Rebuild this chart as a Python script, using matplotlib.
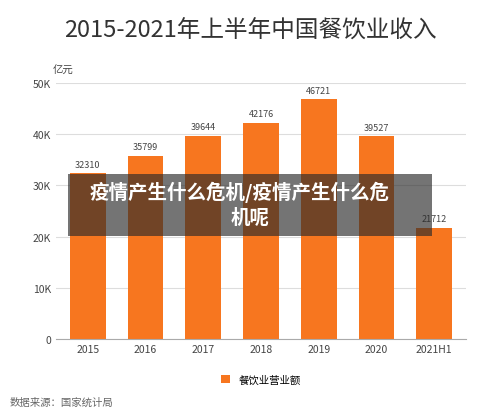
import matplotlib
matplotlib.use("Agg")
import matplotlib.pyplot as plt
from matplotlib.patches import Rectangle

plt.rcParams['font.family'] = ['Noto Sans CJK SC', 'DejaVu Sans']

categories = ['2015', '2016', '2017', '2018', '2019', '2020', '2021H1']
values = [32310, 35799, 39644, 42176, 46721, 39527, 21712]
yticks = [0, 10000, 20000, 30000, 40000, 50000]
ytick_labels = ['0', '10K', '20K', '30K', '40K', '50K']

fig = plt.figure(figsize=(5.0, 4.14), dpi=100)
ax = fig.add_axes([0.112, 0.178, 0.82, 0.62])
color = '#F7761F'
ax.bar(categories, values, width=0.62, color=color, label='餐饮业营业额')
for i, v in enumerate(values):
    ax.text(i, v + 900, str(v), ha='center', va='bottom', fontsize=6.5, color='#444444')
ax.set_ylim(0, 50000)
ax.set_yticks(yticks)
ax.set_yticklabels(ytick_labels)
ax.tick_params(axis='both', length=0, labelsize=7.5, colors='#444444')
ax.grid(axis='y', color='#dddddd', linewidth=0.8)
ax.set_axisbelow(True)
for s in ['top', 'right', 'left']:
    ax.spines[s].set_visible(False)
ax.spines['bottom'].set_color('#aaaaaa')
ax.set_xlim(-0.55, 6.55)

fig.text(0.5, 0.925, '2015-2021年上半年中国餐饮业收入', ha='center', va='center', fontsize=17, color='#333333')
fig.text(0.105, 0.822, '亿元', fontsize=7.5, color='#444444')
ax.legend(loc='upper center', bbox_to_anchor=(0.5, -0.1), frameon=False, fontsize=7.5,
          handlelength=0.9, handleheight=0.9)
fig.text(0.02, 0.02, '数据来源：国家统计局', fontsize=7.5, color='#666666')

fig.patches.append(Rectangle((0.136, 0.427), 0.728, 0.15, transform=fig.transFigure,
                             facecolor='#2a2a2a', alpha=0.65, zorder=5))
fig.text(0.48, 0.535, '疫情产生什么危机/疫情产生什么危', ha='center', va='center', fontsize=14,
         color='white', fontweight='bold', zorder=6)
fig.text(0.5, 0.472, '机呢', ha='center', va='center', fontsize=14,
         color='white', fontweight='bold', zorder=6)

fig.savefig('out.png', dpi=100)
